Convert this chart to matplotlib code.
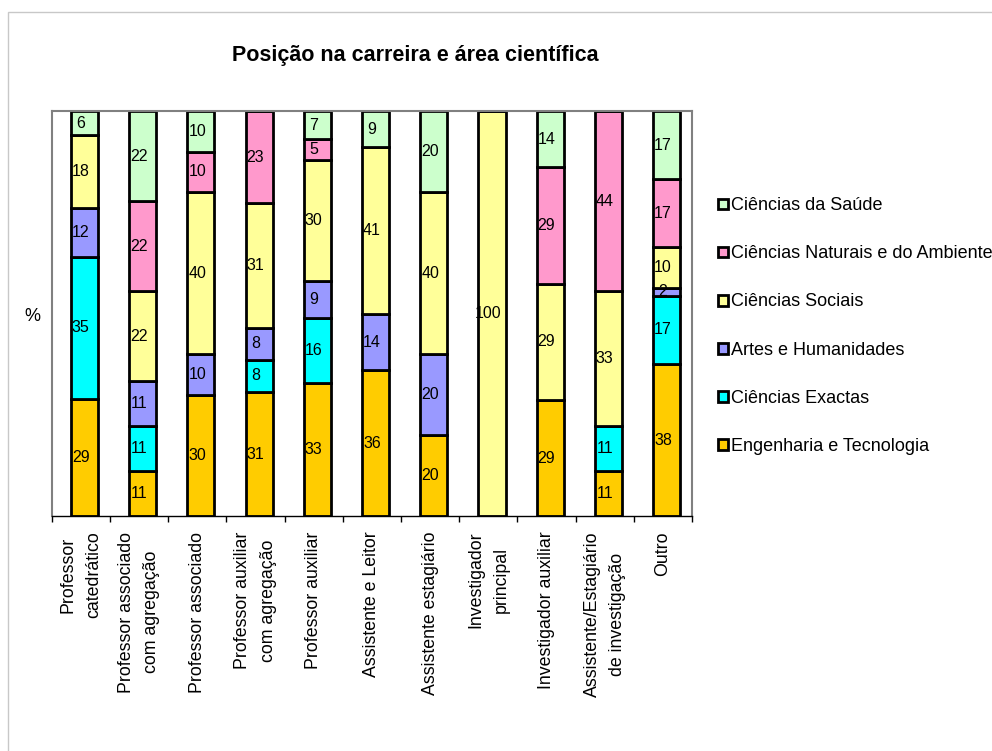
import numpy as np
import matplotlib
matplotlib.use("Agg")
import matplotlib.pyplot as plt
from matplotlib.patches import Patch, Rectangle

plt.rcParams['font.family'] = ['Liberation Sans', 'DejaVu Sans']

categories = ["Professor\ncatedrático", "Professor associado\ncom agregação",
              "Professor associado", "Professor auxiliar\ncom agregação",
              "Professor auxiliar", "Assistente e Leitor", "Assistente estagiário",
              "Investigador\nprincipal", "Investigador auxiliar",
              "Assistente/Estagiário\nde investigação", "Outro"]

# bottom to top
series = ["Engenharia e Tecnologia", "Ciências Exactas", "Artes e Humanidades",
          "Ciências Sociais", "Ciências Naturais e do Ambiente", "Ciências da Saúde"]
engenharia = [29, 11, 30, 31, 33, 36, 20, 0, 29, 11, 38]
exactas    = [35, 11, 0, 8, 16, 0, 0, 0, 0, 11, 17]
artes      = [12, 11, 10, 8, 9, 14, 20, 0, 0, 0, 2]
sociais    = [18, 22, 40, 31, 30, 41, 40, 100, 29, 33, 10]
naturais   = [0, 22, 10, 23, 5, 0, 0, 0, 29, 44, 17]
saude      = [6, 22, 10, 0, 7, 9, 20, 0, 14, 0, 17]
colors = ["#FFCC00", "#00FFFF", "#9999FF", "#FFFF99", "#FF99CC", "#CCFFCC"]

values = np.array([engenharia, exactas, artes, sociais, naturais, saude], dtype=float)
pct = values / values.sum(axis=0) * 100  # 100% stacked

fig = plt.figure(figsize=(9.92, 7.51), dpi=100)
ax = fig.add_axes([0.0521, 0.3123, 0.6455, 0.5399])

x = np.arange(len(categories))
shift = 0.064
bottom = np.zeros(len(categories))
for k in range(len(series)):
    ax.bar(x + shift, pct[k], 0.465, bottom=bottom, color=colors[k],
           edgecolor="black", linewidth=2, label=series[k])
    for i in range(len(categories)):
        if values[k, i] > 0:
            ax.text(x[i], bottom[i] + pct[k, i] / 2, "%d" % values[k, i],
                    ha="center", va="center", fontsize=11.5)
    bottom += pct[k]

ax.set_xlim(-0.5, len(categories) - 0.5)
ax.set_ylim(0, 100)
ax.set_yticks([])
ax.set_xticks(x)
ax.set_xticklabels(categories, rotation=90, ha="center", va="top",
                   multialignment="center", fontsize=12.8, linespacing=1.65)
ax.set_xticks(np.arange(len(categories) + 1) - 0.5, minor=True)
ax.tick_params(axis="x", which="major", length=0, pad=11)
ax.tick_params(axis="x", which="minor", length=4.5, width=1, color="black")
for s in ["top", "right", "left"]:
    ax.spines[s].set_color("#808080")
    ax.spines[s].set_linewidth(1.5)
ax.spines["bottom"].set_color("black")
ax.spines["bottom"].set_linewidth(1)

fig.text(415 / 992, 1 - 56 / 751, "Posição na carreira e área científica",
         ha="center", va="center", fontsize=15.5, fontweight="bold")
fig.text(32 / 992, 1 - 317 / 751, "%", ha="center", va="center", fontsize=13)

handles = [Patch(facecolor=colors[k], edgecolor="black", linewidth=2)
           for k in range(len(series))][::-1]
fig.legend(handles, series[::-1], loc="center left",
           bbox_to_anchor=(718 / 992, 1 - 326 / 751), frameon=False,
           fontsize=13, handlelength=0.55, handleheight=0.55,
           handletextpad=0.15, labelspacing=1.72, borderpad=0, borderaxespad=0)

# outer chart frame
fig.patches.append(Rectangle((8 / 992, -0.1), 1.2, 1 - 12 / 751 + 0.1,
                             transform=fig.transFigure, fill=False,
                             edgecolor="#C8C8C8", linewidth=1))

fig.savefig("out.png", dpi=100)
